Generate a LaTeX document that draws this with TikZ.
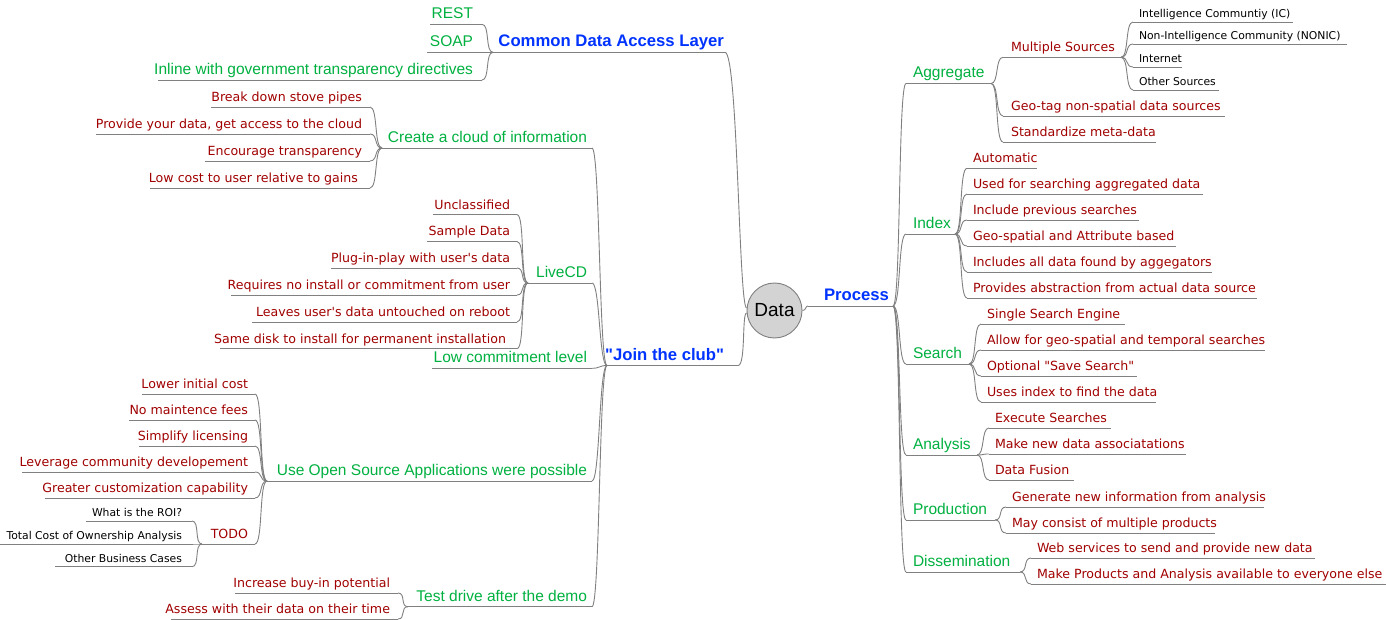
\documentclass[tikz,border=0pt]{standalone}
\usepackage{fontspec}
\setmainfont{Liberation Sans}
\newfontfamily\lib{Liberation Sans}
\newfontfamily\dv{DejaVu Sans}
\definecolor{grn}{RGB}{0,176,64}
\definecolor{drd}{RGB}{160,0,0}
\definecolor{blu}{RGB}{0,51,255}
\definecolor{lgr}{RGB}{128,128,128}
\definecolor{cfill}{RGB}{211,211,211}
\tikzset{
 bnode/.style={inner sep=0pt, outer sep=0pt},
 topic/.style={bnode, font=\lib\fontsize{16.7}{20}\selectfont\bfseries, text=blu, yshift=5.5pt},
 sub/.style={bnode, font=\lib\fontsize{15.5}{18}\selectfont, text=grn, yshift=5.5pt},
 item/.style={bnode, font=\dv\fontsize{12.6}{15}\selectfont, text=drd, yshift=5.5pt},
 small/.style={bnode, font=\dv\fontsize{10.8}{13}\selectfont, text=black, yshift=4.7pt},
 uline/.style={draw=lgr, line width=0.9pt},
 con/.style={draw=lgr, line width=0.9pt},
}
\newcommand\RN[7]{\coordinate (#1-s) at (#3,#6); \coordinate (#1-e) at (#5,#6);
  \draw[uline] (#1-s) -- (#1-e); \node[#2, anchor=base west] (#1) at (#4,#6) {#7};}
\newcommand\LN[7]{\coordinate (#1-s) at (#3,#6); \coordinate (#1-e) at (#5,#6);
  \draw[uline] (#1-s) -- (#1-e); \node[#2, anchor=base east] (#1) at (#4,#6) {#7};}
\newcommand\cR[2]{\draw[con] (#1) .. controls +(8,0) and +(-8,0) .. (#2);}
\newcommand\cL[2]{\draw[con] (#1) .. controls +(-8,0) and +(8,0) .. (#2);}
\begin{document}
\begin{tikzpicture}[x=1pt,y=-1pt]
\useasboundingbox (0,0) rectangle (1386,620);
% centre
\node[circle, draw=lgr, fill=cfill, line width=0.9pt, minimum size=55pt, inner sep=0pt,
      font=\lib\fontsize{19}{22}\selectfont] (data) at (774.5,310.5) {Data};
% ---------------- right side ----------------
\RN{proc}{topic}{808}{824}{893}{306}{Process}
\draw[con] (data.east) .. controls +(4,0) and +(-3,0) .. (proc-s);
\RN{agg}{sub}{906}{913}{991}{83.5}{Aggregate}
\RN{idx}{sub}{906}{913}{955}{234}{Index}
\RN{srch}{sub}{906}{913}{969}{364}{Search}
\RN{ana}{sub}{906}{913}{977}{455}{Analysis}
\RN{prod}{sub}{906}{913}{995}{520}{Production}
\RN{diss}{sub}{906}{913}{1020}{572}{Dissemination}
\cR{proc-e}{agg-s}\cR{proc-e}{idx-s}\cR{proc-e}{srch-s}
\cR{proc-e}{ana-s}\cR{proc-e}{prod-s}\cR{proc-e}{diss-s}
% Aggregate
\RN{ms}{item}{1003}{1011}{1121}{57.3}{Multiple Sources}
\RN{geo}{item}{1003}{1011}{1225}{116}{Geo-tag non-spatial data sources}
\RN{std}{item}{1003}{1011}{1156}{142}{Standardize meta-data}
\cR{agg-e}{ms-s}\cR{agg-e}{geo-s}\cR{agg-e}{std-s}
\RN{ic}{small}{1133}{1139}{1293}{22}{Intelligence Communtiy (IC)}
\RN{nonic}{small}{1133}{1139}{1347}{44}{Non-Intelligence Community (NONIC)}
\RN{inet}{small}{1133}{1139}{1182}{67}{Internet}
\RN{oths}{small}{1133}{1139}{1219}{90}{Other Sources}
\cR{ms-e}{ic-s}\cR{ms-e}{nonic-s}\cR{ms-e}{inet-s}\cR{ms-e}{oths-s}
% Index
\RN{i1}{item}{967}{973}{1037}{168.3}{Automatic}
\RN{i2}{item}{967}{973}{1203}{194}{Used for searching aggregated data}
\RN{i3}{item}{967}{973}{1139}{220}{Include previous searches}
\RN{i4}{item}{967}{973}{1176}{246}{Geo-spatial and Attribute based}
\RN{i5}{item}{967}{973}{1212}{272}{Includes all data found by aggegators}
\RN{i6}{item}{967}{973}{1257}{298}{Provides abstraction from actual data source}
\cR{idx-e}{i1-s}\cR{idx-e}{i2-s}\cR{idx-e}{i3-s}\cR{idx-e}{i4-s}\cR{idx-e}{i5-s}\cR{idx-e}{i6-s}
% Search
\RN{s1}{item}{981}{987}{1125}{324}{Single Search Engine}
\RN{s2}{item}{981}{987}{1265}{350}{Allow for geo-spatial and temporal searches}
\RN{s3}{item}{981}{987}{1137}{376}{Optional "Save Search"}
\RN{s4}{item}{981}{987}{1156}{402}{Uses index to find the data}
\cR{srch-e}{s1-s}\cR{srch-e}{s2-s}\cR{srch-e}{s3-s}\cR{srch-e}{s4-s}
% Analysis
\RN{a1}{item}{989}{995}{1111}{428}{Execute Searches}
\RN{a2}{item}{989}{995}{1186}{454}{Make new data associatations}
\RN{a3}{item}{989}{995}{1074}{480}{Data Fusion}
\cR{ana-e}{a1-s}\cR{ana-e}{a2-s}\cR{ana-e}{a3-s}
% Production
\RN{p1}{item}{1006}{1012}{1264}{507}{Generate new information from analysis}
\RN{p2}{item}{1006}{1012}{1215}{533}{May consist of multiple products}
\cR{prod-e}{p1-s}\cR{prod-e}{p2-s}
% Dissemination
\RN{d1}{item}{1031}{1037}{1315}{558}{Web services to send and provide new data}
\RN{d2}{item}{1031}{1037}{1386}{584}{Make Products and Analysis available to everyone else}
\cR{diss-e}{d1-s}\cR{diss-e}{d2-s}
% ---------------- left side ----------------
\LN{cdal}{topic}{725}{724}{493}{52.3}{Common Data Access Layer}
\draw[con] (cdal-s) .. controls +(13,0) and +(-8,0) .. (data.175);
\LN{rest}{sub}{482}{473}{430}{24.3}{REST}
\LN{soap}{sub}{482}{473}{427}{52.3}{SOAP}
\LN{inl}{sub}{482}{473}{158}{80}{Inline with government transparency directives}
\cL{cdal-e}{rest-s}\cL{cdal-e}{soap-s}\cL{cdal-e}{inl-s}
\LN{club}{topic}{738}{724}{607}{365.5}{"Join the club"}
\draw[con] (club-s) .. controls +(8,0) and +(-5,0) .. (data.185);
\LN{cloud}{sub}{592}{587}{382}{148}{Create a cloud of information}
\LN{live}{sub}{592}{587}{528}{283}{LiveCD}
\LN{low}{sub}{592}{587}{432}{368.3}{Low commitment level}
\LN{oss}{sub}{592}{587}{267}{481}{Use Open Source Applications were possible}
\LN{test}{sub}{592}{587}{408}{606.7}{Test drive after the demo}
\cL{club-e}{cloud-s}\cL{club-e}{live-s}\cL{club-e}{low-s}\cL{club-e}{oss-s}\cL{club-e}{test-s}
% cloud
\LN{c1}{item}{370}{362}{211}{107}{Break down stove pipes}
\LN{c2}{item}{370}{362}{95.5}{134}{Provide your data, get access to the cloud}
\LN{c3}{item}{370}{362}{205}{161}{Encourage transparency}
\LN{c4}{item}{370}{358}{150}{188}{Low cost to user relative to gains}
\cL{cloud-e}{c1-s}\cL{cloud-e}{c2-s}\cL{cloud-e}{c3-s}\cL{cloud-e}{c4-s}
% LiveCD
\LN{l1}{item}{517}{510}{433}{214.6}{Unclassified}
\LN{l2}{item}{517}{510}{427}{241.5}{Sample Data}
\LN{l3}{item}{517}{510}{331}{268}{Plug-in-play with user's data}
\LN{l4}{item}{517}{510}{231}{295}{Requires no install or commitment from user}
\LN{l5}{item}{517}{510}{252}{322}{Leaves user's data untouched on reboot}
\LN{l6}{item}{517}{506}{219.5}{348.6}{Same disk to install for permanent installation}
\cL{live-e}{l1-s}\cL{live-e}{l2-s}\cL{live-e}{l3-s}\cL{live-e}{l4-s}\cL{live-e}{l5-s}\cL{live-e}{l6-s}
% Open source
\LN{o1}{item}{255}{248}{142}{394}{Lower initial cost}
\LN{o2}{item}{255}{248}{129}{420}{No maintence fees}
\LN{o3}{item}{255}{248}{139}{446}{Simplify licensing}
\LN{o4}{item}{255}{248}{22}{472}{Leverage community developement}
\LN{o5}{item}{255}{248}{45}{498}{Greater customization capability}
\LN{todo}{item}{255}{248}{202}{544}{TODO}
\cL{oss-e}{o1-s}\cL{oss-e}{o2-s}\cL{oss-e}{o3-s}\cL{oss-e}{o4-s}\cL{oss-e}{o5-s}\cL{oss-e}{todo-s}
\LN{t1}{small}{192}{182}{86}{521}{What is the ROI?}
\LN{t2}{small}{192}{182}{0}{544}{Total Cost of Ownership Analysis}
\LN{t3}{small}{192}{182}{55}{566.7}{Other Business Cases}
\cL{todo-e}{t1-s}\cL{todo-e}{t2-s}\cL{todo-e}{t3-s}
% Test drive
\LN{x1}{item}{398}{390}{235}{593}{Increase buy-in potential}
\LN{x2}{item}{398}{390}{171}{619}{Assess with their data on their time}
\cL{test-e}{x1-s}\cL{test-e}{x2-s}
\end{tikzpicture}
\end{document}
